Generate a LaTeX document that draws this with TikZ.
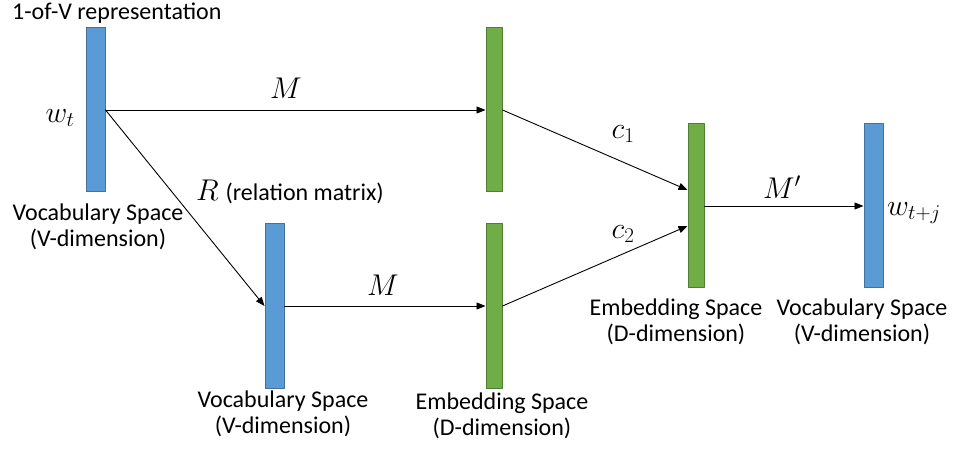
\RequirePackage{fix-cm}
\documentclass[tikz,border=0pt]{standalone}
\usepackage{fontspec}
\setmainfont{Carlito}
\usepackage{tikz}
\usetikzlibrary{arrows.meta}
\usetikzlibrary{positioning}
\definecolor{vocab-blue}{HTML}{5B9BD5}
\definecolor{vocab-edge}{HTML}{41719C}
\definecolor{embed-green}{HTML}{70AD47}
\definecolor{embed-edge}{HTML}{507E32}

\begin{document}
\begin{tikzpicture}[x=1pt, y=-1pt, line cap=round, line join=round,
    vocab/.style={draw=vocab-edge, fill=vocab-blue, line width=1pt, minimum width=19pt, minimum height=164pt, inner sep=0pt},
    embed/.style={draw=embed-edge, fill=embed-green, line width=1pt, minimum width=16pt, minimum height=164pt, inner sep=0pt},
    link/.style={-{Triangle[length=9pt,width=7pt]}, line width=0.9pt},
    caption/.style={align=center, font=\fontsize{24}{26}\selectfont, inner sep=0pt},
    sym/.style={font=\fontsize{30}{32}\selectfont, inner sep=0pt}]
    % frame
    \useasboundingbox (0,0) rectangle (954,449);

    % vectors
    \node[vocab] (vin) at (95.5,110) {};
    \node[vocab] (vrel) at (274.5,306) {};
    \node[embed] (emb1) at (494,110) {};
    \node[embed] (emb2) at (494,306) {};
    \node[embed] (embsum) at (696,206) {};
    \node[vocab] (vout) at (873.5,206) {};

    % connectors
    \draw[link] (vin.east) -- (emb1.west);
    \draw[link] (vin.east) -- (vrel.west);
    \draw[link] (vrel.east) -- (emb2.west);
    \draw[link] (emb1.east) -- ([yshift=16pt]embsum.west);
    \draw[link] (emb2.east) -- ([yshift=-20pt]embsum.west);
    \draw[link] (embsum.east) -- (vout.west);

    % symbols
    \node[sym] at (60,118) {$w_t$};
    \node[sym] at (286,88) {$M$};
    \node[sym, anchor=west] at (196,192) {$R$ \fontsize{24}{26}\selectfont(relation matrix)};
    \node[sym] at (383,285) {$M$};
    \node[sym] at (623,134) {$c_1$};
    \node[sym] at (623,234) {$c_2$};
    \node[sym] at (782,187) {$M'$};
    \node[sym, anchor=west] at (887,213) {$w_{t+j}$};

    % captions
    \node[caption, anchor=west] at (12,13) {1-of-V representation};
    \node[caption] at (98,227) {Vocabulary Space\\(V-dimension)};
    \node[caption] at (283,414) {Vocabulary Space\\(V-dimension)};
    \node[caption] at (502,416) {Embedding Space\\(D-dimension)};
    \node[caption] at (676,322) {Embedding Space\\(D-dimension)};
    \node[caption] at (862,322) {Vocabulary Space\\(V-dimension)};
\end{tikzpicture}
\end{document}
